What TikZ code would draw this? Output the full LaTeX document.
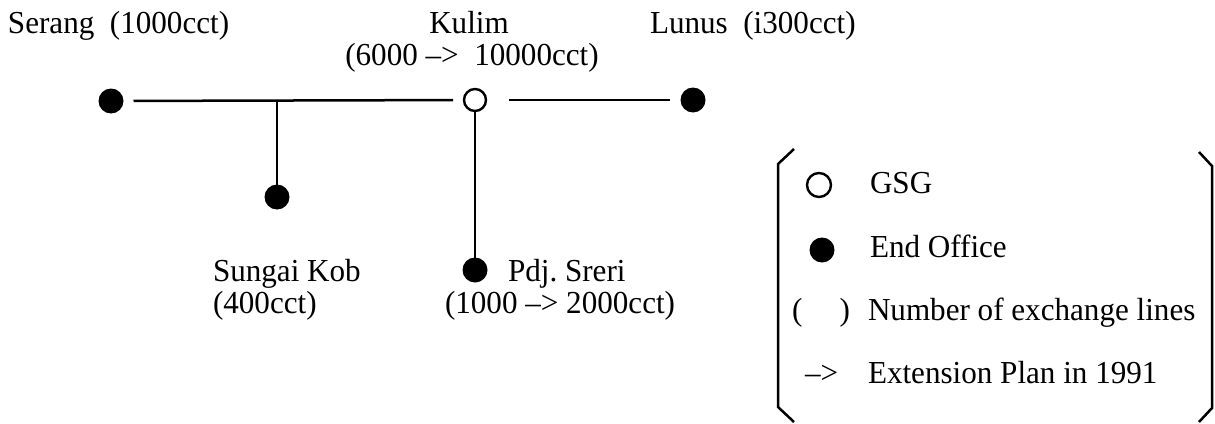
\documentclass[tikz,border=0pt]{standalone}
\usepackage{fontspec}
\setmainfont{Liberation Serif}
% labels are set slightly tall, like the printed face
\newcommand{\tallText}[1]{\scalebox{1.02}[1.05]{#1}}
\begin{document}
\begin{tikzpicture}[x=1pt,y=-1pt,
    every node/.style={inner sep=0pt, outer sep=0pt},
    lbl/.style={anchor=base west, font=\fontsize{30.5}{36}\selectfont},
    office/.style={circle, fill=black, minimum size=25pt},
    gsg/.style={circle, draw=black, line width=2.4pt, minimum size=22pt},
    link/.style={line width=2.5pt},
    bracket/.style={line width=2.5pt, line join=miter}]
  \useasboundingbox (0,0) rectangle (1215,423);

  % exchanges
  \node[office] (serang) at (111,101) {};
  \node[gsg]    (kulim)  at (475,100) {};
  \node[office] (lunus)  at (693,100) {};
  \node[office] (sungai) at (277,197) {};
  \node[office] (pdj)    at (475,270) {};
  \coordinate (tap) at (277,101);

  % trunk routes
  \draw[link, shorten <=10pt, shorten >=11pt] (serang) -- (kulim);
  \draw[link, shorten <=23pt, shorten >=11pt] (kulim) -- (lunus);
  \draw[link] (tap) -- (sungai);
  \draw[link] (kulim) -- (pdj);

  % exchange labels
  \node[lbl] (serangL) at (8,33) {\tallText{Serang\ \ (1000cct)}};
  \node[lbl, anchor=base] (kulimL) at (469,33) {\tallText{Kulim}};
  \node[lbl, anchor=base] (kulimC) at (472,65) {\tallText{(6000 --> \ 10000cct)}};
  \node[lbl] (lunusL) at (650,33) {\tallText{Lunus\ \ (i300cct)}};
  \node[lbl] (sungaiL) at (213,281) {\tallText{Sungai Kob}};
  \node[lbl] (sungaiC) at (213,313) {\tallText{(400cct)}};
  \node[lbl] (pdjL) at (508,281) {\tallText{Pdj.\ Sreri}};
  \node[lbl] (pdjC) at (445,313) {\tallText{(1000 --> 2000cct)}};

  % legend frame
  \draw[bracket] (794,149) -- (778,164) -- (778,407) -- (794,422);
  \draw[bracket] (1199,152) -- (1212,166) -- (1212,408) -- (1199,422);

  % legend entries
  \node[gsg, minimum size=24pt] (keyGsg) at (819,185) {};
  \node[lbl] (keyGsgL) at (870,193) {\tallText{GSG}};
  \node[office] (keyEnd) at (822,250) {};
  \node[lbl] (keyEndL) at (870,257) {\tallText{End Office}};
  \node[lbl] (keyOpen) at (792,320) {\tallText{(}};
  \node[lbl, anchor=base east] (keyClose) at (850,320) {\tallText{)}};
  \node[lbl] (keyLines) at (868,320) {\tallText{Number of exchange lines}};
  \node[lbl] (keyArrow) at (805,383) {\tallText{-->}};
  \node[lbl] (keyPlan) at (868,383) {\tallText{Extension Plan in 1991}};
\end{tikzpicture}
\end{document}
